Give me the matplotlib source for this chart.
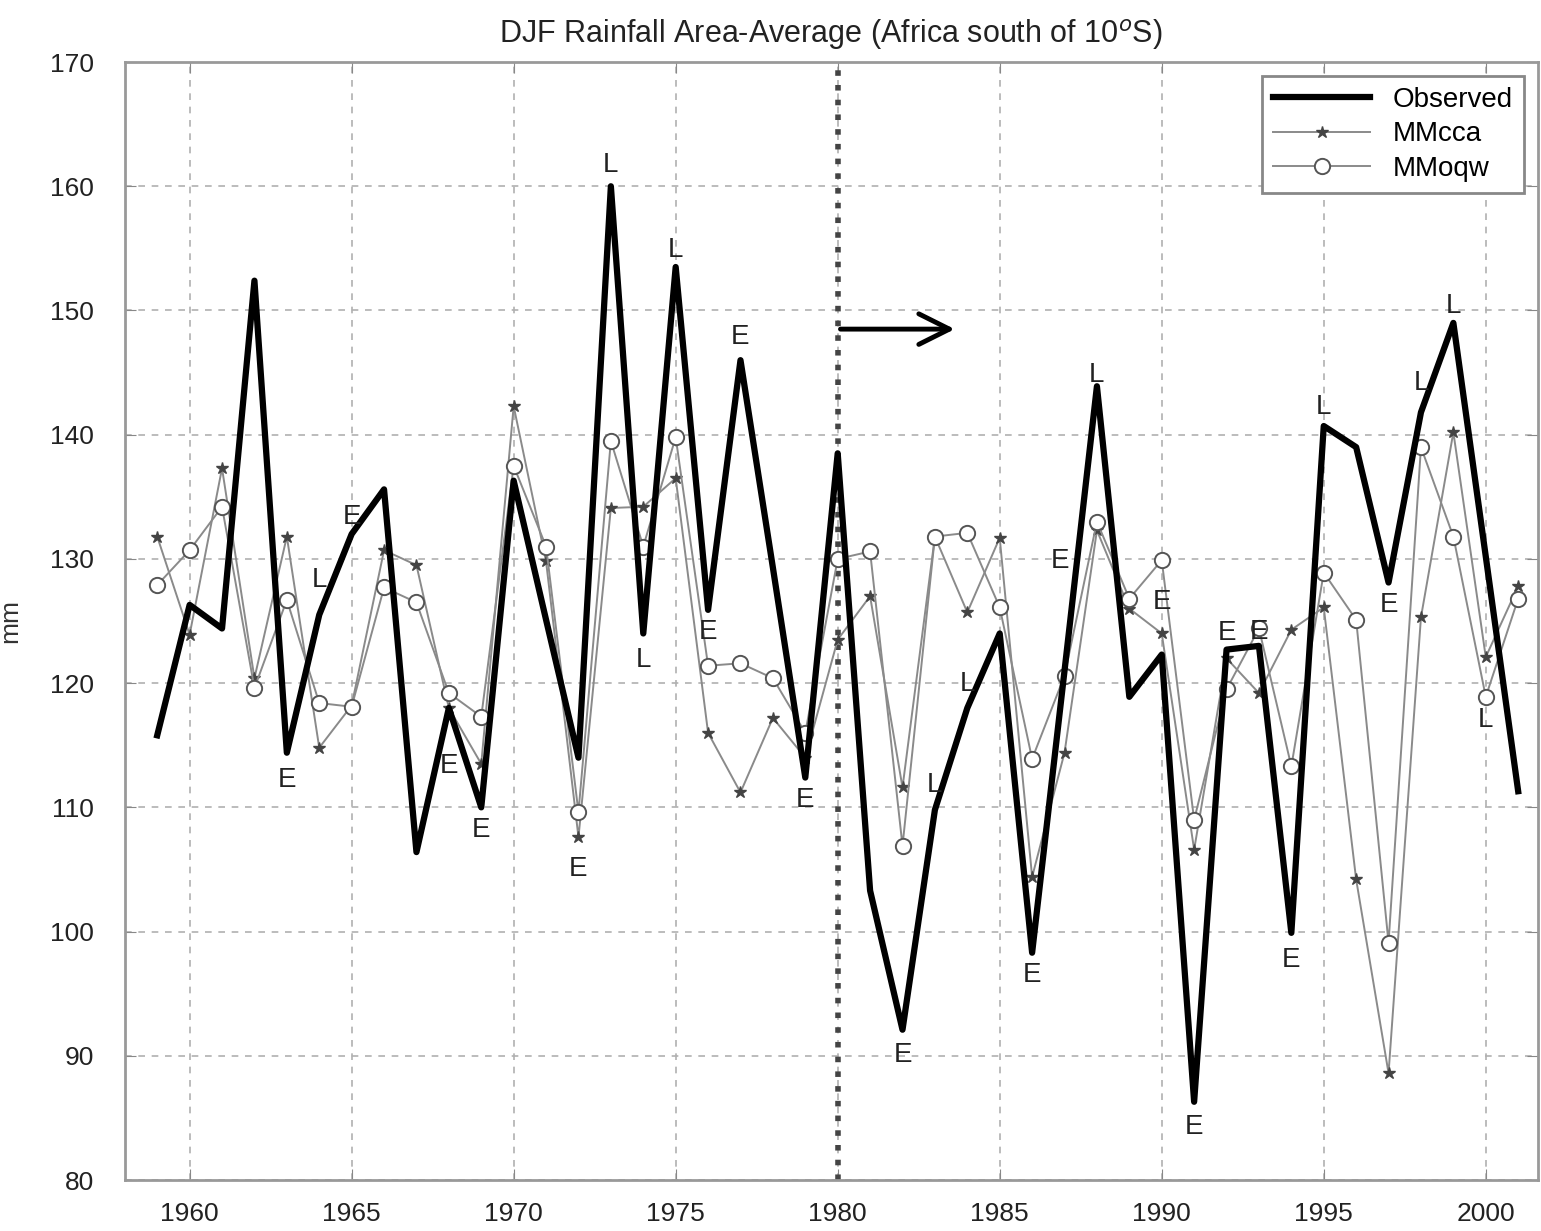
import matplotlib.pyplot as plt

plt.rcParams['font.family'] = ['Liberation Sans', 'DejaVu Sans']

# DJF seasons 1959-2001
years = list(range(1959, 2002))

observed = [115.8, 126.3, 124.4, 152.4, 114.4, 125.5, 132.0, 135.6, 106.4, 118.0,
            110.0, 136.3, 125.1, 114.0, 160.0, 124.0, 153.5, 125.9, 146.0, 129.3,
            112.4, 138.5, 103.3, 92.1, 109.8, 118.0, 124.0, 98.3, 121.0, 143.9,
            118.9, 122.3, 86.3, 122.7, 123.0, 99.9, 140.7, 139.0, 128.1, 141.8,
            149.0, 130.2, 111.3]

mmcca = [131.8, 123.9, 137.3, 120.4, 131.8, 114.8, 118.2, 130.7, 129.5, 118.0,
         113.5, 142.3, 129.8, 107.6, 134.1, 134.2, 136.5, 116.0, 111.2, 117.2,
         114.0, 123.5, 127.0, 111.6, 131.8, 125.7, 131.7, 104.4, 114.4, 132.3,
         126.0, 124.0, 106.6, 122.0, 119.2, 124.3, 126.1, 104.2, 88.6, 125.3,
         140.2, 122.1, 127.8]

mmoqw = [127.9, 130.7, 134.2, 119.6, 126.7, 118.4, 118.1, 127.7, 126.5, 119.2,
         117.3, 137.5, 131.0, 109.6, 139.5, 131.0, 139.8, 121.4, 121.6, 120.4,
         116.0, 130.0, 130.6, 106.9, 131.8, 132.1, 126.1, 113.9, 120.6, 133.0,
         126.8, 129.9, 109.0, 119.5, 124.4, 113.3, 128.9, 125.1, 99.1, 139.0,
         131.8, 118.9, 126.8]

# E / L markers next to the observed series
tag_text = ['E', 'L', 'E', 'E', 'E', 'E', 'L', 'L', 'L', 'E', 'E', 'E',
            'E', 'L', 'L', 'E', 'E', 'L', 'E', 'E', 'E', 'E', 'E', 'L',
            'E', 'L', 'L', 'L']
tag_x = [1963, 1964, 1965, 1968, 1969, 1972, 1973, 1974, 1975, 1976, 1977, 1979,
         1982, 1983, 1984, 1986, 1986.85, 1988, 1990, 1991, 1992, 1993, 1994, 1995,
         1997, 1998, 1999, 2000]
tag_y = [112.2, 128.3, 133.4, 113.3, 108.2, 105.0, 161.7, 121.9, 154.9, 124.1, 147.9, 110.6,
         90.1, 111.8, 119.9, 96.5, 129.8, 144.8, 126.5, 84.3, 124.0, 124.1, 97.7, 142.2,
         126.3, 144.2, 150.4, 117.0]

fig = plt.figure(figsize=(15.41, 12.31), dpi=100)
ax = fig.add_axes([0.081, 0.0414, 0.9168, 0.9082])

ax.plot(years, observed, color='black', lw=4.5, label='Observed', zorder=4)
ax.plot(years, mmcca, color='#8a8a8a', lw=1.4, marker='*', ms=9,
        mfc='#444444', mec='#444444', label='MMcca', zorder=3)
ax.plot(years, mmoqw, color='#8a8a8a', lw=1.4, marker='o', ms=11,
        mfc='white', mec='#555555', mew=1.4, label='MMoqw', zorder=3)

# start of the hindcast period
ax.axvline(1980, color='#444444', lw=4, ls=':', zorder=2)
ax.annotate('', xy=(1983.7, 148.5), xytext=(1980.0, 148.5),
            arrowprops=dict(arrowstyle='->', lw=3.5, color='black', mutation_scale=55))

for t, x, y in zip(tag_text, tag_x, tag_y):
    ax.text(x, y, t, fontsize=20, ha='center', va='center', color='#222222', zorder=5)

ax.set_xlim(1958.0, 2001.6)
ax.set_ylim(80, 170)
ax.set_xticks(range(1960, 2001, 5))
ax.set_yticks(range(80, 171, 10))
ax.grid(True, color='#b0b0b0', ls=(0, (4, 4)), lw=1.2)
ax.tick_params(direction='in', length=8, top=True, right=True, labelsize=19,
               color='#888888', labelcolor='#222222')
ax.tick_params(axis='x', pad=16)
ax.tick_params(axis='y', pad=22)
for s in ax.spines.values():
    s.set_color('#999999')
    s.set_linewidth(2)

ax.set_ylabel('mm', fontsize=19, color='#333333', labelpad=20)
ax.set_title('DJF Rainfall Area-Average (Africa south of 10$^{o}$S)', fontsize=22,
             color='#222222', pad=14)

leg = ax.legend(loc='upper right', fontsize=20, fancybox=False, framealpha=1,
                edgecolor='#888888', borderaxespad=0.5, handlelength=3.5,
                labelspacing=0.3, borderpad=0.4)
leg.get_frame().set_linewidth(2)

fig.savefig('out.png', dpi=100)
